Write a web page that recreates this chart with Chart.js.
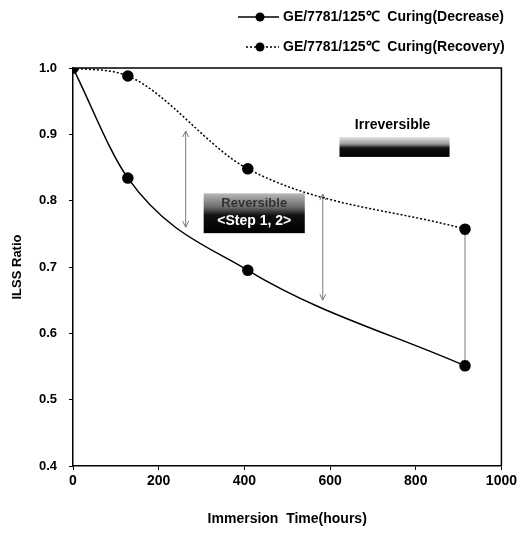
<!DOCTYPE html>
<html lang="en">
<head>
  <meta charset="UTF-8" />
  <title>ILSS Ratio vs Immersion Time</title>
  <script src="https://cdn.jsdelivr.net/npm/chart.js"></script>
  <style>
    body { margin: 0; background: #fff; }
    #wrap { width: 520px; height: 533px; }
  </style>
</head>
<body>
  <div id="wrap"><canvas id="grafico" width="520" height="533"></canvas></div>

  <script>
    // datos
    const horas = [0, 128, 408, 915];
    const decrease = [1.0, 0.834, 0.695, 0.551];
    const recovery = [1.0, 0.988, 0.848, 0.757];
    const seriesNames = ['GE/7781/125\u2103  Curing(Decrease)', 'GE/7781/125\u2103  Curing(Recovery)'];

    // flechas entre curvas: [hora, desde, hasta]
    const flechas = [[263, 0.905, 0.76], [583, 0.81, 0.65], [915, 0.757, 0.551]];
    // cajas de texto (coordenadas de datos)
    const cajaRev = { x0: 305, x1: 541, y0: 0.811, y1: 0.751, top: 'Reversible', bottom: '<Step 1, 2>' };
    const cajaIrr = { x0: 622, x1: 879, y0: 0.896, y1: 0.866, title: 'Irreversible', titleX: 746, titleY: 0.914 };

    const FONT = '"Liberation Sans", Arial, sans-serif';

    function flecha(ctx, x, y1, y2) {
      ctx.beginPath();
      ctx.moveTo(x, y1);
      ctx.lineTo(x, y2);
      const d = 6, w = 3;
      ctx.moveTo(x - w, y1 + d); ctx.lineTo(x, y1); ctx.lineTo(x + w, y1 + d);
      ctx.moveTo(x - w, y2 - d); ctx.lineTo(x, y2); ctx.lineTo(x + w, y2 - d);
      ctx.stroke();
    }

    const extras = {
      id: 'extras',
      beforeDatasetsDraw(chart) {
        const { ctx, chartArea: a, scales: { x, y } } = chart;
        ctx.save();
        // marco superior y derecho
        ctx.strokeStyle = '#000';
        ctx.lineWidth = 1.5;
        ctx.beginPath();
        ctx.moveTo(a.left, a.top);
        ctx.lineTo(a.right, a.top);
        ctx.lineTo(a.right, a.bottom);
        ctx.stroke();

        // flechas
        ctx.strokeStyle = '#7a7a7a';
        ctx.lineWidth = 1;
        flechas.forEach(f => flecha(ctx, x.getPixelForValue(f[0]), y.getPixelForValue(f[1]), y.getPixelForValue(f[2])));

        // caja reversible
        let bx = x.getPixelForValue(cajaRev.x0), bx2 = x.getPixelForValue(cajaRev.x1);
        let by = y.getPixelForValue(cajaRev.y0), by2 = y.getPixelForValue(cajaRev.y1);
        let g = ctx.createLinearGradient(0, by, 0, by2);
        g.addColorStop(0, '#b8b8b8');
        g.addColorStop(0.35, '#6a6a6a');
        g.addColorStop(0.55, '#111');
        g.addColorStop(1, '#000');
        ctx.fillStyle = g;
        ctx.fillRect(bx, by, bx2 - bx, by2 - by);
        ctx.textAlign = 'center';
        ctx.textBaseline = 'middle';
        ctx.fillStyle = '#333';
        ctx.font = 'bold 13px ' + FONT;
        ctx.fillText(cajaRev.top, (bx + bx2) / 2, by + 10);
        ctx.fillStyle = '#fff';
        ctx.font = 'bold 14px ' + FONT;
        ctx.fillText(cajaRev.bottom, (bx + bx2) / 2, by2 - 12);

        // caja irreversible
        ctx.fillStyle = '#000';
        ctx.font = 'bold 14px ' + FONT;
        ctx.fillText(cajaIrr.title, x.getPixelForValue(cajaIrr.titleX), y.getPixelForValue(cajaIrr.titleY));
        bx = x.getPixelForValue(cajaIrr.x0); bx2 = x.getPixelForValue(cajaIrr.x1);
        by = y.getPixelForValue(cajaIrr.y0); by2 = y.getPixelForValue(cajaIrr.y1);
        g = ctx.createLinearGradient(0, by, 0, by2);
        g.addColorStop(0, '#e4e4e4');
        g.addColorStop(0.35, '#9a9a9a');
        g.addColorStop(0.55, '#111');
        g.addColorStop(1, '#000');
        ctx.fillStyle = g;
        ctx.fillRect(bx, by, bx2 - bx, by2 - by);
        ctx.restore();
      },
      afterDraw(chart) {
        // leyenda arriba a la derecha
        const ctx = chart.ctx;
        ctx.save();
        const filas = [17, 47];
        chart.data.datasets.forEach((ds, i) => {
          const yy = filas[i];
          ctx.strokeStyle = '#000';
          ctx.lineWidth = 1.5;
          ctx.setLineDash(ds.borderDash || []);
          ctx.beginPath();
          ctx.moveTo(i === 0 ? 238 : 246, yy);
          ctx.lineTo(279, yy);
          ctx.stroke();
          ctx.setLineDash([]);
          ctx.fillStyle = '#000';
          ctx.beginPath();
          ctx.arc(260, yy, 4.5, 0, Math.PI * 2);
          ctx.fill();
          ctx.font = 'bold 14px ' + FONT;
          ctx.textAlign = 'left';
          ctx.textBaseline = 'middle';
          ctx.fillText(ds.label, 283, yy);
        });
        ctx.restore();
      }
    };

    new Chart(document.getElementById('grafico'), {
      type: 'line',
      data: {
        datasets: [
          {
            label: seriesNames[0],
            data: horas.map((h, i) => ({ x: h, y: decrease[i] })),
            borderColor: '#000',
            backgroundColor: '#000',
            borderWidth: 1.5,
            pointRadius: 5,
            cubicInterpolationMode: 'monotone'
          },
          {
            label: seriesNames[1],
            data: horas.map((h, i) => ({ x: h, y: recovery[i] })),
            borderColor: '#000',
            backgroundColor: '#000',
            borderWidth: 1.5,
            borderDash: [2, 2],
            pointRadius: 5,
            cubicInterpolationMode: 'monotone'
          }
        ]
      },
      options: {
        responsive: false,
        animation: false,
        layout: { padding: { top: 68, right: 18, left: 0, bottom: 0 } },
        plugins: { legend: { display: false }, tooltip: { enabled: false } },
        scales: {
          x: {
            type: 'linear',
            min: 0,
            max: 1000,
            afterFit: s => { s.height = 67; },
            ticks: { stepSize: 200, color: '#000', padding: 3, callback: v => String(v), font: { family: FONT, size: 14, weight: 'bold' } },
            grid: { drawOnChartArea: false, drawTicks: true, tickLength: 4, color: '#000' },
            border: { display: true, color: '#000', width: 1.5 },
            title: { display: true, text: 'Immersion  Time(hours)', color: '#000', padding: { top: 4, bottom: 5 }, font: { family: FONT, size: 14, weight: 'bold' } }
          },
          y: {
            min: 0.4,
            max: 1.0,
            afterFit: s => { s.width = 73; },
            ticks: { stepSize: 0.1, color: '#000', padding: 12, callback: v => v.toFixed(1), font: { family: FONT, size: 13, weight: 'bold' } },
            grid: { drawOnChartArea: false, drawTicks: true, tickLength: 4, color: '#000' },
            border: { display: true, color: '#000', width: 1.5 },
            title: { display: true, text: 'ILSS Ratio', color: '#000', padding: { top: 10, bottom: 4 }, font: { family: FONT, size: 13, weight: 'bold' } }
          }
        }
      },
      plugins: [extras]
    });
  </script>
</body>
</html>
